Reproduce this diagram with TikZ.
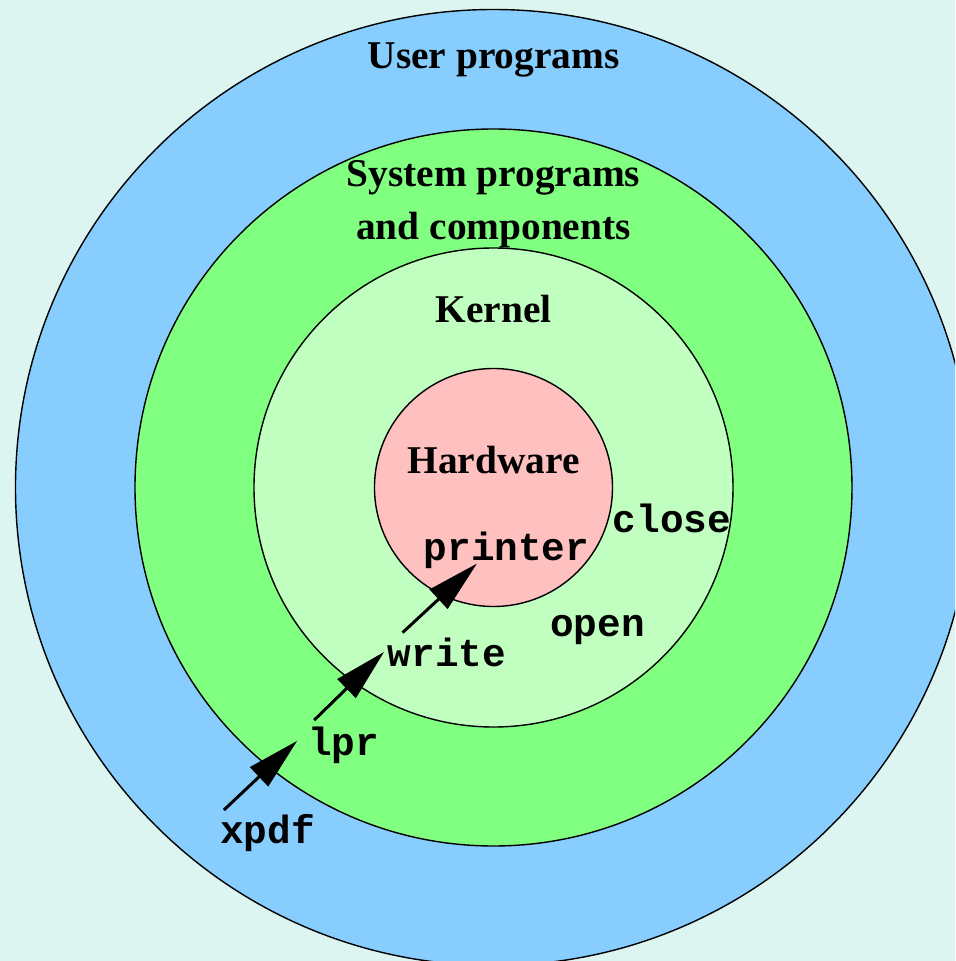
\documentclass[tikz,border=0pt]{standalone}
\usepackage{fontspec}
\setmainfont{Liberation Serif}
\setmonofont{Liberation Mono}
\usetikzlibrary{positioning}
\usetikzlibrary{arrows.meta}
\definecolor{bgc}{RGB}{220,245,240}
\definecolor{userc}{RGB}{135,206,255}
\definecolor{sysc}{RGB}{128,255,128}
\definecolor{kerc}{RGB}{192,255,192}
\definecolor{hwc}{RGB}{255,192,192}
\begin{document}
\begin{tikzpicture}[
lbl/.style={font=\fontsize{22.4}{26}\selectfont\bfseries,anchor=base,inner sep=2pt},
cmd/.style={font=\fontsize{22.4}{26}\selectfont\ttfamily\bfseries,anchor=base,inner sep=2pt},
ring/.style={draw=black,line width=0.8pt,shape=circle,inner sep=0pt},
call/.style={line width=1.7pt,-{Triangle[length=10.5mm,width=5.2mm]}}]
\useasboundingbox(-9.87,-9.47)rectangle(9.23,9.75);
\clip(-9.87,-9.47)rectangle(9.23,9.75);
\fill[bgc](-9.87,-9.47)rectangle(9.23,9.75);

\node[ring,fill=userc,minimum size=19.12cm](C1)at(0,0){};
\node[ring,fill=sysc,minimum size=14.34cm](C2)at(0,0){};
\node[ring,fill=kerc,minimum size=9.58cm](C3)at(0,0){};
\node[ring,fill=hwc,minimum size=4.76cm](C4)at(0,0){};

\node[lbl](Usr)at(0,8.37){User programs};
\node[lbl](Sys1)at(0,6.01){System programs};
\node[lbl](Sys2)at(0,4.95){and components};
\node[lbl](Krn)at(0,3.29){Kernel};
\node[lbl](Hw)at(0,0.29){Hardware};

\node[cmd](Prn)at(0.26,-1.45){printer};
\node[cmd](Cls)at(3.57,-0.89){close};
\node[cmd](Opn)at(2.08,-2.97){open};
\node[cmd](Wr)at(-0.93,-3.57){write};
\node[cmd](Lpr)at(-3.0,-5.35){lpr};
\node[cmd](Xpdf)at(-4.52,-7.11){xpdf};

\draw[call]([xshift=1.5mm]Xpdf.north west)--([xshift=-1.4mm,yshift=0.8mm]Lpr.west);
\draw[call]([xshift=2mm,yshift=0.5mm]Lpr.north west)--(Wr.west);
\draw[call]([xshift=3.7mm,yshift=0.2mm]Wr.north west)--([xshift=-5.9mm,yshift=1.7mm]Prn.south);
\end{tikzpicture}
\end{document}
